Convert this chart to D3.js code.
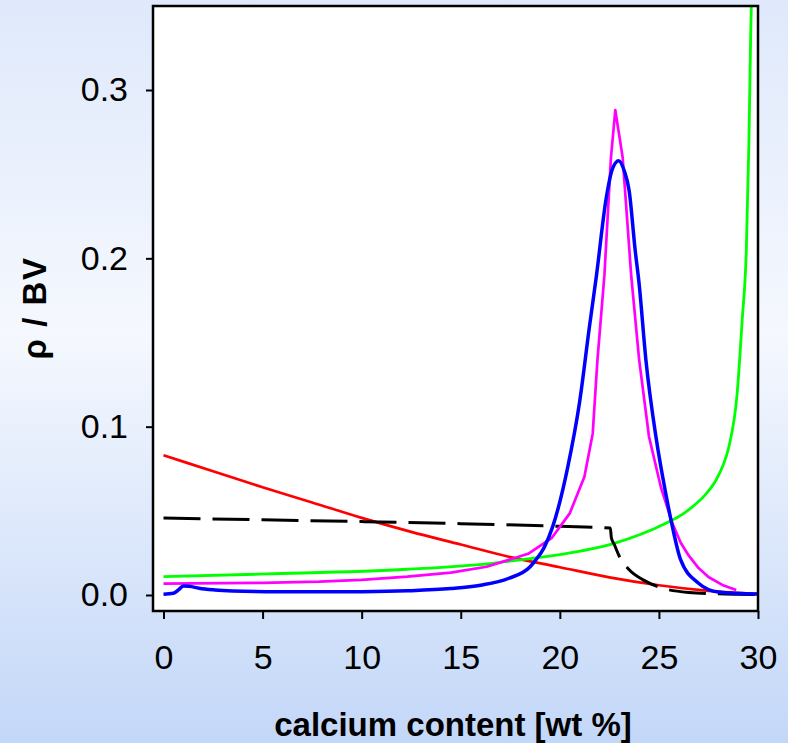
<!DOCTYPE html>
<html><head><meta charset="utf-8">
<script src="https://cdn.jsdelivr.net/npm/d3@7"></script>
<style>
html,body{margin:0;padding:0;}
body{width:788px;height:743px;overflow:hidden;}
</style></head>
<body>
<script>
// ---- data ----
const xTicks = [0, 5, 10, 15, 20, 25, 30];
const yTicks = [0.0, 0.1, 0.2, 0.3];
const xLabel = "calcium content [wt %]";
const yLabel = "ρ / BV";

const redX = [0, 2.5, 5, 7.5, 10, 12.5, 15, 17.5, 20, 22.5, 25, 27.5, 30];
const redY = [0.083, 0.0735, 0.064, 0.055, 0.0458, 0.0375, 0.030, 0.0225, 0.0165, 0.0105, 0.0058, 0.0025, 0.0006];

const blackX = [0, 5, 10, 15, 20, 22.55, 22.6, 22.75, 23.0, 23.5, 24.2, 25.2, 26.5, 28, 30];
const blackY = [0.0457, 0.0447, 0.0436, 0.0424, 0.0408, 0.0398, 0.034, 0.030, 0.023, 0.015, 0.009, 0.004, 0.0015, 0.0007, 0.0003];

const greenX = [0, 5.2, 12.3, 16.7, 18.1, 20, 22.7, 25.35, 26.2, 26.7, 27.3, 27.87, 28.2, 28.54, 28.95, 29.2, 29.41, 29.54, 29.63, 29.72];
const greenY = [0.0109, 0.0125, 0.0153, 0.019, 0.021, 0.024, 0.0305, 0.0426, 0.048, 0.0525, 0.059, 0.068, 0.076, 0.0885, 0.120, 0.163, 0.205, 0.268, 0.332, 0.38];

const blueX = [0, 0.5, 0.75, 1.0, 1.3, 1.8, 2.6, 3.5, 5.2, 7.8, 10, 12.3, 14.5, 16.0, 17.4, 18.5, 18.8, 19.2, 19.64, 20.4, 20.99, 21.49, 21.85, 22.33, 22.65, 22.97, 23.25, 23.5, 23.8, 24.0, 24.34, 24.85, 25.35, 25.68, 26.1, 27.0, 28.0, 30];
const blueY = [0.0004, 0.001, 0.003, 0.0054, 0.0052, 0.004, 0.003, 0.0024, 0.002, 0.0019, 0.002, 0.0025, 0.0038, 0.0058, 0.0098, 0.0168, 0.021, 0.028, 0.0406, 0.076, 0.114, 0.159, 0.19, 0.235, 0.253, 0.258, 0.252, 0.240, 0.205, 0.185, 0.140, 0.094, 0.060, 0.0406, 0.0208, 0.007, 0.0018, 0.0006];

const magentaX = [0, 5, 7.85, 10, 12.3, 14.5, 16.3, 17.6, 18.4, 19.6, 20.5, 21.24, 21.66, 21.9, 22.25, 22.58, 22.8, 23.17, 23.6, 24.0, 24.5, 25.1, 25.68, 26.1, 26.5, 27.0, 27.5, 28.2, 28.9];
const magentaY = [0.0068, 0.0072, 0.0079, 0.009, 0.0109, 0.0133, 0.0168, 0.0215, 0.0245, 0.034, 0.0485, 0.0703, 0.096, 0.14, 0.19, 0.26, 0.288, 0.26, 0.19, 0.14, 0.094, 0.064, 0.0426, 0.031, 0.0235, 0.016, 0.0107, 0.006, 0.003];

// ---- layout ----
const W = 788, H = 743;
const frame = {left: 153, right: 758, top: 6, bottom: 611};

const x = d3.scaleLinear().domain([0, 30]).range([163.5, 758]);
const y = d3.scaleLinear().domain([0, 0.3]).range([595, 90]);

const svg = d3.select("body").append("svg").attr("width", W).attr("height", H);

const defs = svg.append("defs");
const grad = defs.append("linearGradient").attr("id", "bg").attr("x1", 0).attr("y1", 0).attr("x2", 0).attr("y2", 1);
grad.append("stop").attr("offset", "0%").attr("stop-color", "#dfe9fb");
grad.append("stop").attr("offset", "45%").attr("stop-color", "#f5f8fe");
grad.append("stop").attr("offset", "100%").attr("stop-color", "#c3d7f8");
defs.append("clipPath").attr("id", "clip").append("rect")
  .attr("x", frame.left).attr("y", frame.top)
  .attr("width", frame.right - frame.left).attr("height", frame.bottom - frame.top);

svg.append("rect").attr("width", W).attr("height", H).attr("fill", "url(#bg)");
svg.append("rect").attr("x", frame.left).attr("y", frame.top)
  .attr("width", frame.right - frame.left).attr("height", frame.bottom - frame.top)
  .attr("fill", "#ffffff");

const series = [
  {xs: redX, ys: redY, color: "#ff0000", w: 2.7, curve: d3.curveMonotoneX},
  {xs: greenX, ys: greenY, color: "#00ff00", w: 2.8, curve: d3.curveMonotoneX},
  {xs: blackX, ys: blackY, color: "#000000", w: 3, curve: d3.curveMonotoneX, dash: "37,12"},
  {xs: magentaX, ys: magentaY, color: "#ff00ff", w: 2.7, curve: d3.curveLinear},
  {xs: blueX, ys: blueY, color: "#0000ff", w: 3.5, curve: d3.curveMonotoneX}
];

const plot = svg.append("g").attr("clip-path", "url(#clip)");
series.forEach(s => {
  const pts = s.xs.map((v, i) => [v, s.ys[i]]);
  const line = d3.line().x(d => x(d[0])).y(d => y(d[1])).curve(s.curve);
  plot.append("path").attr("d", line(pts))
    .attr("fill", "none").attr("stroke", s.color).attr("stroke-width", s.w)
    .attr("stroke-linejoin", "round")
    .attr("stroke-dasharray", s.dash || null);
});

// frame
svg.append("rect").attr("x", frame.left).attr("y", frame.top)
  .attr("width", frame.right - frame.left).attr("height", frame.bottom - frame.top)
  .attr("fill", "none").attr("stroke", "#000").attr("stroke-width", 2.5);

// axes
const fmtY = d3.format(".1f");
const gx = svg.append("g").attr("transform", `translate(0,${frame.bottom})`)
  .call(d3.axisBottom(x).tickValues(xTicks).tickSize(8).tickPadding(26).tickFormat(d3.format("d")));
const gy = svg.append("g").attr("transform", `translate(${frame.left},0)`)
  .call(d3.axisLeft(y).tickValues(yTicks).tickSize(7).tickPadding(18).tickFormat(fmtY));
[gx, gy].forEach(g => {
  g.select(".domain").remove();
  g.selectAll(".tick line").attr("stroke", "#000").attr("stroke-width", 2);
  g.selectAll(".tick text").attr("fill", "#000")
    .style("font-family", "'Liberation Sans', Arial, sans-serif").style("font-size", "34px");
});

svg.append("text").attr("x", 453).attr("y", 736).attr("text-anchor", "middle")
  .style("font-family", "'Liberation Sans', Arial, sans-serif").style("font-size", "33px")
  .style("font-weight", "bold").attr("fill", "#000").text(xLabel);

svg.append("text").attr("transform", "translate(46,308) rotate(-90)").attr("text-anchor", "middle")
  .style("font-family", "'Liberation Sans', Arial, sans-serif").style("font-size", "33px")
  .style("font-weight", "bold").style("letter-spacing", "1.5px").attr("fill", "#000")
  .text(yLabel);
</script>
</body></html>
